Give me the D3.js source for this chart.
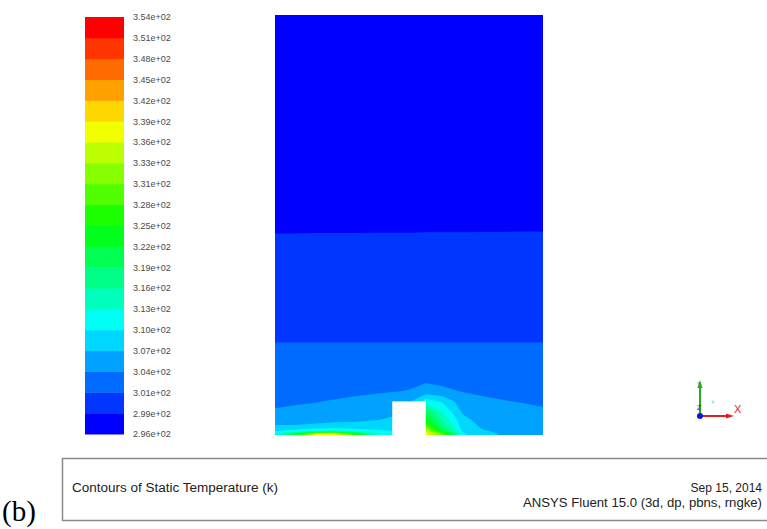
<!DOCTYPE html>
<html>
<head>
<meta charset="utf-8">
<script src="https://cdn.jsdelivr.net/npm/d3@7"></script>
<style>
  html, body { margin: 0; padding: 0; background: #fff; overflow: hidden; }
  text { font-family: Arial, "Liberation Sans", sans-serif; }
</style>
</head>
<body>
<svg id="chart" width="767" height="529"></svg>
<script>
// ---- Colour bar: static temperature range (K), 20 bands ----
const tMin = 296;
const tMax = 354;
const nBands = 20;
const tickLabels = [
  "2.96e+02", "2.99e+02", "3.01e+02", "3.04e+02", "3.07e+02", "3.10e+02", "3.13e+02",
  "3.16e+02", "3.19e+02", "3.22e+02", "3.25e+02", "3.28e+02", "3.31e+02", "3.33e+02",
  "3.36e+02", "3.39e+02", "3.42e+02", "3.45e+02", "3.48e+02", "3.51e+02", "3.54e+02"
];

// ---- Section of the room (m) ----
const roomWidth = 0.8;
const roomHeight = 1.25;
// heated block on the floor
const blockX = [0.35, 0.45];
const blockTop = 0.10;

// ---- Sampled temperature field (K) ----
// sample columns (m from left wall)
const gridX = [0.01, 0.06, 0.12, 0.18, 0.24, 0.30, 0.35, 0.40, 0.45, 0.50, 0.56, 0.62, 0.68, 0.74, 0.79];
// sample rows (m above floor)
const gridY = [0.004, 0.012, 0.025, 0.045, 0.07, 0.10, 0.13, 0.17, 0.22, 0.26, 0.29, 0.58, 0.62, 1.24];
// one row of temperatures per entry of gridY
const tempRows = [
  [314.0, 322.0, 337.0, 337.5, 326.0, 314.0, 311.0, 322.0, 338.0, 330.0, 311.0, 308.2, 307.4, 307.2, 307.0],
  [310.5, 311.5, 313.0, 314.0, 312.0, 311.0, 310.5, 320.0, 336.0, 322.0, 310.0, 307.8, 307.2, 307.0, 306.8],
  [308.0, 308.0, 308.5, 309.0, 309.2, 309.2, 309.2, 318.0, 330.0, 318.0, 309.2, 307.2, 306.8, 306.6, 306.5],
  [306.2, 306.2, 306.5, 306.8, 307.0, 307.5, 308.0, 316.0, 324.0, 316.0, 308.4, 306.6, 306.2, 306.0, 305.8],
  [305.0, 305.2, 305.4, 305.8, 306.2, 306.6, 307.0, 313.0, 320.0, 313.0, 307.2, 305.8, 305.4, 305.2, 305.0],
  [304.2, 304.4, 304.6, 304.9, 305.2, 305.6, 306.0, 307.0, 312.0, 310.0, 306.0, 305.0, 304.8, 304.6, 304.4],
  [303.6, 303.7, 303.8, 304.0, 304.2, 304.4, 304.6, 304.8, 306.0, 305.2, 304.6, 304.4, 304.2, 304.0, 303.8],
  [303.3, 303.3, 303.4, 303.5, 303.6, 303.7, 303.8, 303.9, 303.9, 303.9, 303.8, 303.7, 303.6, 303.5, 303.4],
  [303.2, 303.2, 303.2, 303.2, 303.2, 303.2, 303.2, 303.2, 303.2, 303.2, 303.2, 303.2, 303.2, 303.2, 303.2],
  [302.7, 302.7, 302.7, 302.7, 302.7, 302.7, 302.7, 302.7, 302.7, 302.7, 302.7, 302.7, 302.7, 302.7, 302.7],
  [300.9, 300.9, 300.9, 300.9, 300.9, 300.9, 300.9, 300.9, 300.9, 300.9, 300.9, 300.9, 300.9, 300.9, 300.9],
  [300.0, 300.0, 300.0, 300.0, 300.0, 300.0, 300.0, 300.0, 300.0, 300.0, 300.0, 300.0, 300.0, 300.0, 300.0],
  [297.8, 297.8, 297.9, 297.9, 297.9, 298.0, 298.0, 298.0, 298.1, 298.1, 298.1, 298.2, 298.2, 298.3, 298.3],
  [297.0, 297.0, 297.0, 297.0, 297.0, 297.0, 297.0, 297.0, 297.0, 297.0, 297.0, 297.0, 297.0, 297.0, 297.0]
];

// ---- Setup ----
const svg = d3.select("#chart");
const step = (tMax - tMin) / nBands;
const bandEdges = d3.range(nBands + 1).map(i => tMin + i * step);
// banded rainbow: blue (coldest) through cyan, green, yellow to red (hottest)
const bandColor = k => d3.hsl(240 * (1 - k / (nBands - 1)), 1, 0.5).formatHex();

// ---- Colour bar ----
const barX = 85, barW = 39;
const yBar = d3.scaleLinear().domain([tMin, tMax]).range([434, 17]);
const bar = svg.append("g");
bar.selectAll("rect")
  .data(d3.range(nBands))
  .join("rect")
  .attr("x", barX)
  .attr("width", barW)
  .attr("y", k => yBar(bandEdges[k + 1]))
  .attr("height", k => yBar(bandEdges[k]) - yBar(bandEdges[k + 1]) + 0.5)
  .attr("fill", k => bandColor(k));

const barAxis = d3.axisRight(yBar)
  .tickValues(bandEdges)
  .tickFormat((d, i) => tickLabels[i])
  .tickSize(0)
  .tickPadding(9);
const axG = svg.append("g")
  .attr("transform", `translate(${barX + barW},0)`)
  .call(barAxis);
axG.select(".domain").remove();
axG.selectAll("text")
  .attr("font-size", 9)
  .attr("fill", "#4a4a4a")
  .style("font-family", "Arial, 'Liberation Sans', sans-serif");

// ---- Contour field ----
const xPx = d3.scaleLinear().domain([0, roomWidth]).range([275, 543]);
const yPx = d3.scaleLinear().domain([0, roomHeight]).range([435, 15]);

// pad the sample grid by one copy of each edge row/column lying outside the
// room, so the contour rings close outside the clipped area
const padX = [-0.05].concat(gridX, [roomWidth + 0.05]);
const padY = [-0.05].concat(gridY, [roomHeight + 0.05]);
const padRows = [tempRows[0]].concat(tempRows, [tempRows[tempRows.length - 1]])
  .map(r => [r[0]].concat(r, [r[r.length - 1]]));
const nx = padX.length, ny = padY.length;

// grid-cell coordinates -> metres (samples sit at cell centres)
const gx = d3.scaleLinear().domain(padX.map((d, i) => i + 0.5)).range(padX);
const gy = d3.scaleLinear().domain(padY.map((d, i) => i + 0.5)).range(padY);

const values = [];
for (let j = 0; j < ny; j++) for (let i = 0; i < nx; i++) values.push(padRows[j][i]);

const bands = d3.contours()
  .size([nx, ny])
  .thresholds(bandEdges.slice(1, nBands))(values);

const proj = d3.geoTransform({
  point(x, y) { this.stream.point(xPx(gx(x)), yPx(gy(y))); }
});
const path = d3.geoPath(proj);

svg.append("defs").append("clipPath").attr("id", "room")
  .append("rect")
  .attr("x", xPx(0)).attr("y", yPx(roomHeight))
  .attr("width", xPx(roomWidth) - xPx(0))
  .attr("height", yPx(0) - yPx(roomHeight));

const field = svg.append("g").attr("clip-path", "url(#room)");
field.append("rect")
  .attr("x", xPx(0)).attr("y", yPx(roomHeight))
  .attr("width", xPx(roomWidth) - xPx(0))
  .attr("height", yPx(0) - yPx(roomHeight))
  .attr("fill", bandColor(0));
field.selectAll("path.band")
  .data(bands)
  .join("path")
  .attr("class", "band")
  .attr("d", path)
  .attr("fill", (d, i) => bandColor(i + 1));

// heated block (solid, not part of the fluid)
field.append("rect")
  .attr("x", xPx(blockX[0]))
  .attr("y", yPx(blockTop))
  .attr("width", xPx(blockX[1]) - xPx(blockX[0]))
  .attr("height", yPx(0) - yPx(blockTop))
  .attr("fill", "#ffffff");

// ---- Axis triad ----
const triad = svg.append("g").attr("transform", "translate(700,416)");
triad.append("line").attr("x1", 0).attr("y1", 0).attr("x2", 0).attr("y2", -34)
  .attr("stroke", "#22b022").attr("stroke-width", 2);
triad.append("path").attr("d", "M-2.5,-28 L0,-36 L2.5,-28 Z").attr("fill", "#22b022");
triad.append("line").attr("x1", 0).attr("y1", 0).attr("x2", 30).attr("y2", 0)
  .attr("stroke", "#e02020").attr("stroke-width", 2);
triad.append("path").attr("d", "M26,-2.5 L34,0 L26,2.5 Z").attr("fill", "#e02020");
triad.append("circle").attr("r", 3).attr("fill", "#1010e0");
triad.append("circle").attr("cx", 13).attr("cy", -14).attr("r", 1.5).attr("fill", "#9ee8ee");
triad.append("text").attr("x", 34).attr("y", -3).attr("font-size", 11).attr("fill", "#e02020").text("X");
triad.append("text").attr("x", -3).attr("y", -30).attr("font-size", 6).attr("fill", "#22a022").text("Y");
triad.append("text").attr("x", -3).attr("y", -6).attr("font-size", 7).attr("fill", "#333").text("Z");

// ---- Title block ----
svg.append("rect")
  .attr("x", 62.5).attr("y", 458.5)
  .attr("width", 720).attr("height", 62)
  .attr("fill", "#fff")
  .attr("stroke", "#8a8a8a").attr("stroke-width", 1.5);
svg.append("text")
  .attr("x", 72).attr("y", 492)
  .attr("font-size", 12).attr("fill", "#222")
  .attr("textLength", 206).attr("lengthAdjust", "spacingAndGlyphs")
  .text("Contours of Static Temperature (k)");
svg.append("text")
  .attr("x", 762).attr("y", 492)
  .attr("text-anchor", "end")
  .attr("font-size", 12).attr("fill", "#222")
  .text("Sep 15, 2014");
svg.append("text")
  .attr("x", 523).attr("y", 507)
  .attr("font-size", 12).attr("fill", "#222")
  .attr("textLength", 239).attr("lengthAdjust", "spacingAndGlyphs")
  .text("ANSYS Fluent 15.0 (3d, dp, pbns, rngke)");

// panel letter
svg.append("text")
  .attr("x", 2).attr("y", 521)
  .attr("font-size", 29)
  .style("font-family", "'Liberation Serif', 'Times New Roman', serif")
  .attr("fill", "#000")
  .text("(b)");
</script>
</body>
</html>
